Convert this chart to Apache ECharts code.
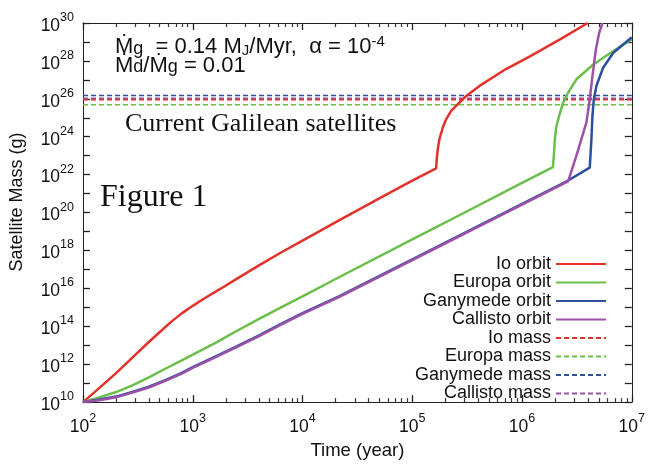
<!DOCTYPE html>
<html>
<head>
<meta charset="utf-8">
<script src="https://cdn.jsdelivr.net/npm/echarts@6/dist/echarts.min.js"></script>
<style>
html,body{margin:0;padding:0;background:#fff;}
#chart{width:648px;height:465px;}
</style>
</head>
<body>
<div id="chart"></div>
<script>
// ---- data (time in years, mass in grams) ----
const timeRange = [1e2, 1e7];
const massRange = [1e10, 1e30];
const xTickExponents = [2, 3, 4, 5, 6, 7];          // labels 10^2 ... 10^7
const yLabelExponents = [10, 12, 14, 16, 18, 20, 22, 24, 26, 28, 30];
const ioOrbit = [
  [1e2,1e10],[1.26e2,3.16e10],[1.58e2,1e11],[2e2,3.39e11],[2.51e2,1.17e12],
  [3.16e2,4.17e12],[3.98e2,1.48e13],[5.01e2,5.01e13],[6.31e2,1.66e14],[7.94e2,4.79e14],
  [1e3,1.2e15],[1.26e3,2.82e15],[1.78e3,9.33e15],
  [2.51e3,3.16e16],[3.98e3,1.58e17],[6.31e3,7.59e17],[1e4,3.31e18],[2.17e4,3.98e19],
  [5.01e4,5.62e20],[1e5,4.79e21],[1.65e5,2.14e22],[1.67e5,6.92e22],[1.71e5,2.29e23],
  [1.77e5,7.76e23],[1.90e5,3.16e24],[2.04e5,8.51e24],[2.26e5,2.34e25],[2.51e5,4.27e25],
  [3.1e5,1.41e26],[4.1e5,4.79e26],[7.14e5,3.72e27],[1.18e6,1.74e28],[2.24e6,1.41e29],
  [3.96e6,1e30]
];
const europaOrbit = [
  [1e2,1e10],[1.41e2,1.78e10],[2e2,3.39e10],[2.82e2,7.59e10],[3.98e2,2.0e11],
  [5.62e2,5.75e11],[7.94e2,1.58e12],[1e3,3.16e12],[1.58e3,1.26e13],[2.51e3,5.62e13],
  [3.98e3,2.4e14],[6.31e3,9.55e14],[1e4,3.8e15],[2.17e4,3.98e16],[1e5,3.8e18],
  [3.16e5,1.17e20],[1e6,3.63e21],[1.91e6,2.51e22],[1.95e6,1.02e23],[1.99e6,7.76e23],
  [2.06e6,3.8e24],[2.2e6,1.55e25],[2.37e6,6.31e25],[2.63e6,2.14e26],[3.13e6,1.07e27],
  [4.45e6,6.46e27],[6.76e6,3.24e28],[1e7,1.41e29]
];
const ganymedeOrbit = [
  [1e2,1e10],[1.41e2,1.38e10],[2e2,1.95e10],[2.82e2,3.47e10],[3.98e2,6.46e10],
  [5.62e2,1.45e11],[7.94e2,3.47e11],[1e3,6.92e11],[1.58e3,2.46e12],[2.51e3,8.71e12],
  [3.98e3,3.24e13],[6.31e3,1.29e14],[1e4,4.9e14],[2.17e4,3.9e15],[1e5,3.4e17],
  [3.16e5,1e19],[1e6,2.9e20],[2.63e6,4.9e21],[4.14e6,2.34e22],[4.29e6,7.76e23],
  [4.38e6,1.26e25],[4.51e6,9.55e25],[4.76e6,4.79e26],[5.48e6,4.37e27],[6.76e6,2.63e28],
  [1e7,1.78e29]
];
const callistoOrbit = [
  [1e2,1e10],[1.41e2,1.26e10],[2e2,1.78e10],[2.82e2,3.16e10],[3.98e2,5.89e10],
  [5.62e2,1.32e11],[7.94e2,3.16e11],[1e3,6.31e11],[1.58e3,2.24e12],[2.51e3,7.94e12],
  [3.98e3,2.95e13],[6.31e3,1.17e14],[1e4,4.47e14],[2.17e4,3.55e15],[1e5,3.09e17],
  [3.16e5,9.12e18],[1e6,2.63e20],[2.63e6,4.47e21],[3.13e6,1.02e23],[3.48e6,7.76e23],
  [3.86e6,5.75e24],[4.14e6,9.55e25],[4.38e6,1.58e27],[4.7e6,3.89e28],[5.04e6,2.95e29],
  [5.4e6,1e30]
];
const massNames = ['Io mass', 'Europa mass', 'Ganymede mass', 'Callisto mass'];
const massValues = [8.93e25, 4.80e25, 1.48e26, 1.08e26];
const orbitNames = ['Io orbit', 'Europa orbit', 'Ganymede orbit', 'Callisto orbit'];
const colors = ['#e3312c', '#6abf4b', '#2c4f9e', '#9b51a8'];

const FONT = 'Liberation Sans, Arial, Helvetica, sans-serif';
const SERIF = 'Liberation Serif, Times New Roman, serif';

// minor tick positions of the log time axis (2..9 within each decade), in decades
const xMinorExp = [];
for (let d = 2; d < 7; d++) {
  for (let k = 2; k <= 9; k++) xMinorExp.push(d + Math.log10(k));
}

const chart = echarts.init(document.getElementById('chart'), null, {renderer: 'canvas'});

function powLabel(e) {
  return '{b|10}{p|' + Math.round(e) + '}';
}
const labelRich = {
  b: {fontSize: 17.5, fontFamily: FONT, color: '#111', lineHeight: 24, verticalAlign: 'bottom'},
  p: {fontSize: 12.5, fontFamily: FONT, color: '#111', lineHeight: 12, verticalAlign: 'top'}
};
const axisLineStyle = {color: '#222', width: 1};
const majorTickStyle = {color: '#222', width: 1.3};
const minorTickStyle = {color: '#333', width: 1.2};

const orbitData = [ioOrbit, europaOrbit, ganymedeOrbit, callistoOrbit];
const series = [];
orbitData.forEach((d, i) => {
  series.push({
    name: orbitNames[i], type: 'line', data: d, showSymbol: false, symbol: 'none',
    xAxisIndex: 0, yAxisIndex: 0,
    lineStyle: {color: colors[i], width: 2.5}, itemStyle: {color: colors[i]},
    z: 3, silent: true
  });
});
massValues.forEach((m, i) => {
  series.push({
    name: massNames[i], type: 'line', data: [[timeRange[0], m], [timeRange[1], m]],
    showSymbol: false, symbol: 'none', xAxisIndex: 0, yAxisIndex: 0,
    lineStyle: {color: colors[i], width: 1.5, type: [5, 3]}, itemStyle: {color: colors[i]},
    z: 2, silent: true
  });
});

// decade axes (linear in log10 units) that carry the ticks and labels of the log axes
function decadeX(pos, opts) {
  return Object.assign({
    type: 'value', min: xTickExponents[0], max: xTickExponents[xTickExponents.length - 1],
    interval: 1, position: pos,
    axisLine: {show: true, onZero: false, lineStyle: axisLineStyle},
    axisTick: {show: true, inside: true, length: 7, lineStyle: majorTickStyle},
    axisLabel: {show: false}, splitLine: {show: false}
  }, opts || {});
}
function decadeY(pos, opts) {
  return Object.assign({
    type: 'value', min: 10, max: 30, interval: 1, position: pos,
    axisLine: {show: true, onZero: false, lineStyle: axisLineStyle},
    axisTick: {show: true, inside: true, length: 7, lineStyle: majorTickStyle},
    axisLabel: {show: false}, splitLine: {show: false}
  }, opts || {});
}

const option = {
  animation: false,
  backgroundColor: '#fff',
  grid: {left: 83, right: 14, top: 23, bottom: 58},
  xAxis: [
    {type: 'log', logBase: 10, min: timeRange[0], max: timeRange[1], show: false},
    decadeX('bottom', {
      name: 'Time (year)', nameLocation: 'middle', nameGap: 35,
      nameTextStyle: {fontSize: 18.5, fontFamily: FONT, color: '#111'},
      axisLabel: {show: true, formatter: powLabel, rich: labelRich, margin: 10,
                  showMinLabel: true, showMaxLabel: true}
    }),
    decadeX('top'),
    decadeX('bottom', {axisLine: {show: false},
      axisTick: {show: true, inside: true, length: 4, lineStyle: minorTickStyle, customValues: xMinorExp}}),
    decadeX('top', {axisLine: {show: false},
      axisTick: {show: true, inside: true, length: 4, lineStyle: minorTickStyle, customValues: xMinorExp}})
  ],
  yAxis: [
    {type: 'log', logBase: 10, min: massRange[0], max: massRange[1], show: false},
    decadeY('left', {
      axisLabel: {show: true, formatter: powLabel, rich: labelRich, margin: 9,
                  customValues: yLabelExponents, showMinLabel: true, showMaxLabel: true}
    }),
    decadeY('right')
  ],
  legend: {
    data: orbitNames.concat(massNames),
    orient: 'vertical', right: 36, top: 250, align: 'right',
    itemWidth: 50, itemHeight: 18.5, itemGap: 0.5, selectedMode: false,
    itemStyle: {opacity: 0},
    textStyle: {fontSize: 18, fontFamily: FONT, color: '#111'}
  },
  graphic: [
    {type: 'text', left: 115, top: 34, silent: true, style: {
      text: '{b|Ṁ}{s|g}{b|  = 0.14 M}{j|J}{b|/Myr,  α = 10}{p|-4}',
      rich: {
        b: {fontSize: 22, fontFamily: FONT, fill: '#111', lineHeight: 24, verticalAlign: 'bottom'},
        s: {fontSize: 18, fontFamily: FONT, fill: '#111', lineHeight: 22, verticalAlign: 'bottom'},
        j: {fontSize: 15, fontFamily: FONT, fill: '#111', lineHeight: 19, verticalAlign: 'bottom'},
        p: {fontSize: 15, fontFamily: FONT, fill: '#111', lineHeight: 12, verticalAlign: 'top'}
      }
    }},
    {type: 'text', left: 115, top: 54.5, silent: true, style: {
      text: '{b|Ṁ}{s|d}{b|/Ṁ}{s|g}{b| = 0.01}',
      rich: {
        b: {fontSize: 22, fontFamily: FONT, fill: '#111', lineHeight: 24, verticalAlign: 'bottom'},
        s: {fontSize: 18, fontFamily: FONT, fill: '#111', lineHeight: 22, verticalAlign: 'bottom'}
      }
    }},
    {type: 'text', left: 125, top: 111, silent: true, style: {
      text: 'Current Galilean satellites', fontSize: 26, fontFamily: SERIF, fill: '#111'
    }},
    {type: 'text', left: 100, top: 182, silent: true, style: {
      text: 'Figure 1', fontSize: 32, fontFamily: SERIF, fill: '#111'
    }},
    {type: 'text', x: 17, y: 202, rotation: Math.PI / 2, silent: true, style: {
      text: 'Satellite Mass (g)', fontSize: 18, fontFamily: FONT, fill: '#111',
      align: 'center', verticalAlign: 'middle'
    }}
  ],
  series: series
};
chart.setOption(option);
</script>
</body>
</html>
